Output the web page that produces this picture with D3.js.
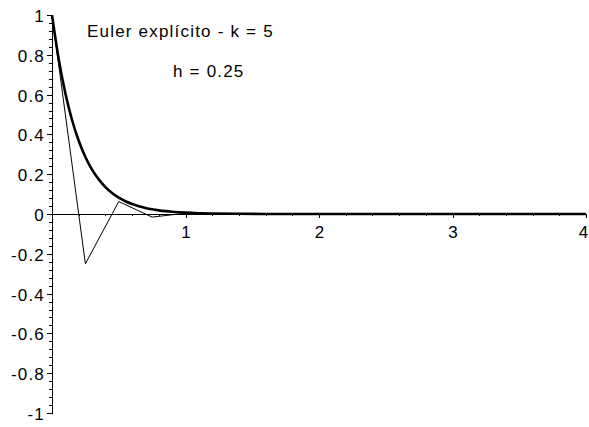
<!DOCTYPE html>
<html>
<head>
<meta charset="utf-8">
<script src="https://cdn.jsdelivr.net/npm/d3@7"></script>
<style>
  html, body { margin: 0; padding: 0; background: #fff; }
  svg { display: block; }
  text { font-family: "Liberation Sans", Arial, sans-serif; fill: #000; }
</style>
</head>
<body>
<svg id="chart" width="589" height="427"></svg>
<script>
// Explicit Euler steps (h = 0.25) for y' = -k y, k = 5
const eulerT = [0, 0.25, 0.5, 0.75, 1, 1.25, 1.5, 1.75, 2, 2.25, 2.5, 2.75, 3, 3.25, 3.5, 3.75, 4];
const eulerY = [1, -0.25, 0.0625, -0.0156, 0.0039, -0.001, 0.0002, -0.0001, 0, 0, 0, 0, 0, 0, 0, 0, 0];

// Exact solution samples
const exactT = [0, 0.05, 0.1, 0.15, 0.2, 0.25, 0.3, 0.35, 0.4, 0.45, 0.5, 0.55, 0.6, 0.65, 0.7, 0.75,
                0.8, 0.85, 0.9, 0.95, 1, 1.1, 1.2, 1.4, 1.6, 2, 3, 4];
const exactY = [1, 0.7788, 0.6065, 0.4724, 0.3679, 0.2865, 0.2231, 0.1738, 0.1353, 0.1054, 0.0821,
                0.0639, 0.0498, 0.0388, 0.0302, 0.0235, 0.0183, 0.0143, 0.0111, 0.0087, 0.0067,
                0.0041, 0.0025, 0.0009, 0.0003, 0.00005, 0, 0];

// Axis ticks
const xMajor = [1, 2, 3, 4];
const xMinor = [0.2, 0.4, 0.6, 0.8, 1.2, 1.4, 1.6, 1.8, 2.2, 2.4, 2.6, 2.8, 3.2, 3.4, 3.6, 3.8];
const yMajor = [-1, -0.8, -0.6, -0.4, -0.2, 0, 0.2, 0.4, 0.6, 0.8, 1];
const yMinor = [];
for (let i = -25; i <= 25; i++) { if (i % 5 !== 0) yMinor.push(i / 25); }

// Annotation lines
const titleLines = ["Euler explícito - k = 5", "h = 0.25"];

const svg = d3.select("#chart");
const x = d3.scaleLinear().domain([0, 4]).range([52, 586]);
const y = d3.scaleLinear().domain([-1, 1]).range([413, 15]);

const fontSize = 17, spacing = 1.2;

// y axis (left, at x = 0)
const gy = svg.append("g").attr("transform", `translate(${x(0)},0)`);
gy.call(d3.axisLeft(y).tickValues(yMinor).tickSize(3).tickSizeOuter(0).tickFormat(""));
gy.call(g => g.select(".domain").remove());
const gyM = svg.append("g").attr("transform", `translate(${x(0)},0)`);
gyM.call(d3.axisLeft(y).tickValues(yMajor).tickSize(5).tickPadding(2).tickSizeOuter(0)
  .tickFormat(d => String(+d.toFixed(1))));
gyM.selectAll("text").attr("font-size", fontSize).attr("letter-spacing", spacing)
  .attr("font-family", null).attr("dy", "0.38em");

// x axis (bottom, at y = 0)
const gx = svg.append("g").attr("transform", `translate(0,${y(0)})`);
gx.call(d3.axisBottom(x).tickValues(xMinor).tickSize(2).tickSizeOuter(0).tickFormat(""));
gx.call(g => g.select(".domain").remove());
const gxM = svg.append("g").attr("transform", `translate(0,${y(0)})`);
gxM.call(d3.axisBottom(x).tickValues(xMajor).tickSize(4).tickSizeOuter(0).tickFormat(d3.format("d")));
gxM.selectAll("text").attr("font-size", fontSize).attr("font-family", null)
  .attr("y", 24).attr("dy", 0)
  .attr("x", d => d === 4 ? -3 : 0);

svg.selectAll(".tick line, .domain").attr("stroke", "#000").attr("shape-rendering", "crispEdges");

// Exact solution (thick)
const exactLine = d3.line().x((d, i) => x(exactT[i])).y(d => y(d)).curve(d3.curveMonotoneX);
svg.append("path").attr("d", exactLine(exactY))
  .attr("fill", "none").attr("stroke", "#000").attr("stroke-width", 2.6);

// Euler approximation (thin)
const eulerLine = d3.line().x((d, i) => x(eulerT[i])).y(d => y(d));
svg.append("path").attr("d", eulerLine(eulerY))
  .attr("fill", "none").attr("stroke", "#000").attr("stroke-width", 1);

// Annotations
svg.append("text").attr("x", 87).attr("y", 37).attr("font-size", fontSize)
  .attr("letter-spacing", spacing).text(titleLines[0]);
svg.append("text").attr("x", 173).attr("y", 77).attr("font-size", fontSize)
  .attr("letter-spacing", spacing).text(titleLines[1]);
</script>
</body>
</html>
